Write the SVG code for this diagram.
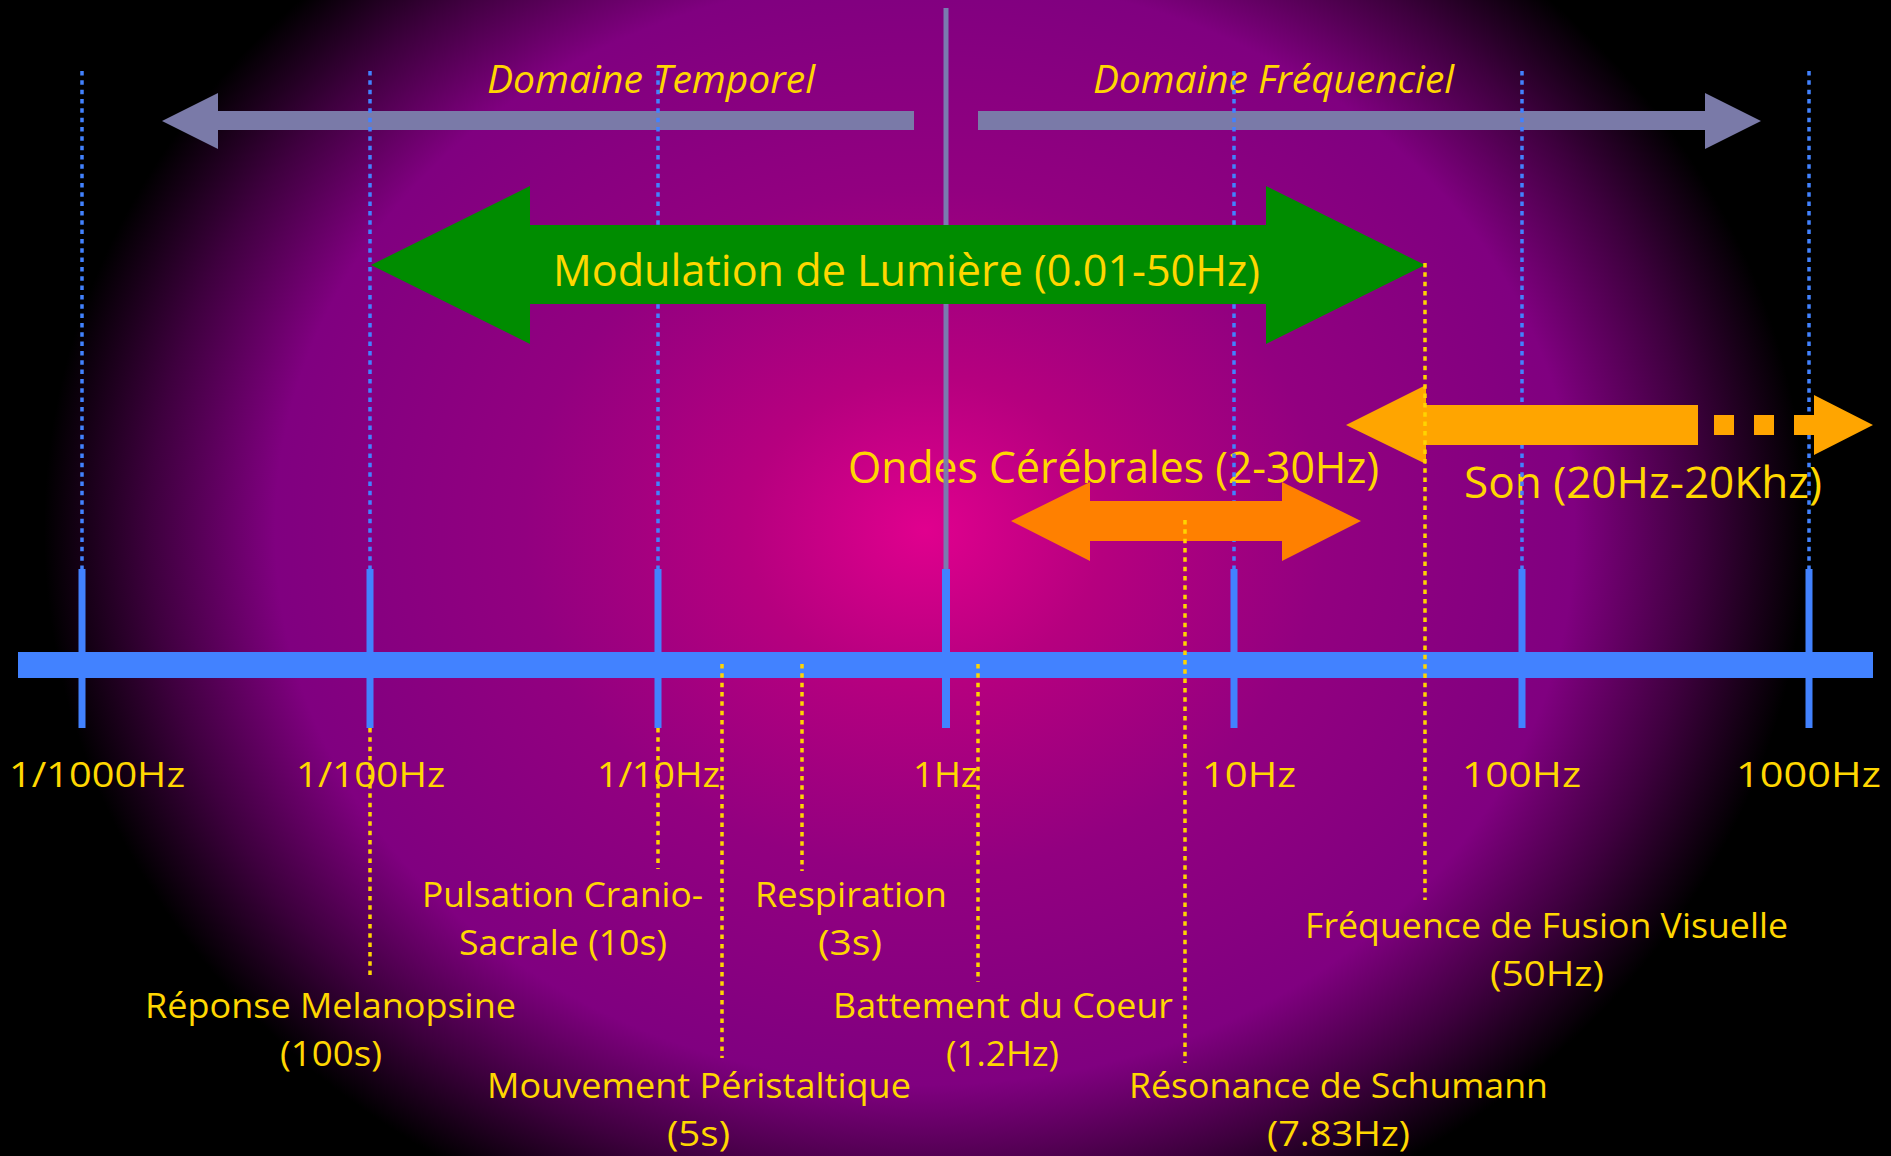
<svg xmlns="http://www.w3.org/2000/svg" width="1891" height="1156" viewBox="0 0 1891 1156">
<defs>
<radialGradient id="bg" gradientUnits="userSpaceOnUse" cx="0" cy="0" r="1" gradientTransform="translate(925 530) scale(890 760)">
<stop offset="0" stop-color="#E0008E"/>
<stop offset="0.2" stop-color="#B6007F"/>
<stop offset="0.45" stop-color="#920080"/>
<stop offset="0.73" stop-color="#800080"/>
<stop offset="0.87" stop-color="#3E003E"/>
<stop offset="0.99" stop-color="#000000"/>
</radialGradient>
<style>
text{font-family:"Open Sans","Liberation Sans",sans-serif;fill:#FFD700}
.dom{font-size:39px;font-style:italic}
.big{font-size:44px}
.ax{font-size:35px}
.lb{font-size:35px}
.bdot{stroke:#4282FF;stroke-width:3.5;stroke-dasharray:4.5 4.83;fill:none}
.ydot{stroke:#FFD400;stroke-width:3.5;stroke-dasharray:4.5 4.83;fill:none}
.tick{fill:#4282FF}
</style>
</defs>
<rect x="0" y="0" width="1891" height="1156" fill="url(#bg)"/>

<g id="domaine-temporel">
<polygon points="162,121 218,93 218,111 914,111 914,130 218,130 218,149" fill="#7A7AA8"/>
<text class="dom" x="487" y="93" textLength="328" lengthAdjust="spacingAndGlyphs">Domaine Temporel</text>
</g>
<g id="domaine-frequenciel">
<polygon points="978,111 1705,111 1705,93 1761,121 1705,149 1705,130 978,130" fill="#7A7AA8"/>
<text class="dom" x="1093" y="93" textLength="361" lengthAdjust="spacingAndGlyphs">Domaine Fréquenciel</text>
</g>
<g id="ondes-label">
<text class="big" x="848" y="483" textLength="531" lengthAdjust="spacingAndGlyphs">Ondes Cérébrales (2-30Hz)</text>
</g>
<g id="son-label">
<text class="big" x="1464" y="498" textLength="358" lengthAdjust="spacingAndGlyphs">Son (20Hz-20Khz)</text>
</g>

<g id="divider">
<line x1="946" y1="8" x2="946" y2="652" stroke="#7A7AB0" stroke-width="5"/>
</g>

<g id="connectors-blue">
<line class="bdot" x1="82" y1="71" x2="82" y2="569"/>
<line class="bdot" x1="370" y1="71" x2="370" y2="569"/>
<line class="bdot" x1="658" y1="71" x2="658" y2="569"/>
<line class="bdot" x1="1234" y1="71" x2="1234" y2="569"/>
<line class="bdot" x1="1522" y1="71" x2="1522" y2="569"/>
<line class="bdot" x1="1809" y1="71" x2="1809" y2="569"/>
</g>

<g id="modulation-lumiere">
<polygon points="371,265 530,186 530,225 1266,225 1266,186 1425,265 1266,344 1266,304 530,304 530,344" fill="#008C00"/>
<text class="big" x="553" y="286" textLength="707" lengthAdjust="spacingAndGlyphs">Modulation de Lumière (0.01-50Hz)</text>
</g>
<g id="ondes-arrow">
<polygon points="1011,521 1090,482 1090,501 1282,501 1282,482 1361,521 1282,561 1282,541 1090,541 1090,561" fill="#FF8000"/>
</g>
<g id="son-arrow" fill="#FFA500">
<polygon points="1346,425 1426,385 1426,405 1698,405 1698,445 1426,445 1426,464"/>
<rect x="1714" y="415" width="20" height="20"/>
<rect x="1754" y="415" width="20" height="20"/>
<polygon points="1794,415 1814,415 1814,395 1873,425 1814,455 1814,435 1794,435"/>
</g>

<g id="axis">
<rect x="18" y="652" width="1855" height="26" fill="#4282FF"/>
<rect class="tick" x="78.5" y="569" width="7" height="159"/>
<rect class="tick" x="366.5" y="569" width="7" height="159"/>
<rect class="tick" x="654.5" y="569" width="7" height="159"/>
<rect class="tick" x="942" y="569" width="8" height="159"/>
<rect class="tick" x="1230.5" y="569" width="7" height="159"/>
<rect class="tick" x="1518.5" y="569" width="7" height="159"/>
<rect class="tick" x="1805.5" y="569" width="7" height="159"/>
</g>

<g id="axis-labels">
<text class="ax" x="9" y="787" textLength="176" lengthAdjust="spacingAndGlyphs">1/1000Hz</text>
<text class="ax" x="296" y="787" textLength="149" lengthAdjust="spacingAndGlyphs">1/100Hz</text>
<text class="ax" x="597" y="787" textLength="123" lengthAdjust="spacingAndGlyphs">1/10Hz</text>
<text class="ax" x="913" y="787" textLength="65" lengthAdjust="spacingAndGlyphs">1Hz</text>
<text class="ax" x="1202" y="787" textLength="94" lengthAdjust="spacingAndGlyphs">10Hz</text>
<text class="ax" x="1462" y="787" textLength="119" lengthAdjust="spacingAndGlyphs">100Hz</text>
<text class="ax" x="1736" y="787" textLength="145" lengthAdjust="spacingAndGlyphs">1000Hz</text>
</g>

<g id="label-pulsation">
<text class="lb" x="422" y="907" textLength="281" lengthAdjust="spacingAndGlyphs">Pulsation Cranio-</text>
<text class="lb" x="459" y="955" textLength="208" lengthAdjust="spacingAndGlyphs">Sacrale (10s)</text>
</g>
<g id="label-respiration">
<text class="lb" x="755" y="907" textLength="192" lengthAdjust="spacingAndGlyphs">Respiration</text>
<text class="lb" x="818" y="955" textLength="64" lengthAdjust="spacingAndGlyphs">(3s)</text>
</g>
<g id="label-melanopsine">
<text class="lb" x="145" y="1018" textLength="371" lengthAdjust="spacingAndGlyphs">Réponse Melanopsine</text>
<text class="lb" x="280" y="1066" textLength="102" lengthAdjust="spacingAndGlyphs">(100s)</text>
</g>
<g id="label-peristaltique">
<text class="lb" x="487" y="1098" textLength="424" lengthAdjust="spacingAndGlyphs">Mouvement Péristaltique</text>
<text class="lb" x="667" y="1146" textLength="63" lengthAdjust="spacingAndGlyphs">(5s)</text>
</g>
<g id="label-coeur">
<text class="lb" x="833" y="1018" textLength="340" lengthAdjust="spacingAndGlyphs">Battement du Coeur</text>
<text class="lb" x="946" y="1066" textLength="113" lengthAdjust="spacingAndGlyphs">(1.2Hz)</text>
</g>
<g id="label-fusion">
<text class="lb" x="1305" y="938" textLength="483" lengthAdjust="spacingAndGlyphs">Fréquence de Fusion Visuelle</text>
<text class="lb" x="1490" y="986" textLength="114" lengthAdjust="spacingAndGlyphs">(50Hz)</text>
</g>
<g id="label-schumann">
<text class="lb" x="1129" y="1098" textLength="419" lengthAdjust="spacingAndGlyphs">Résonance de Schumann</text>
<text class="lb" x="1267" y="1146" textLength="143" lengthAdjust="spacingAndGlyphs">(7.83Hz)</text>
</g>

<g id="connectors-yellow">
<line class="ydot" x1="370" y1="728" x2="370" y2="980"/>
<line class="ydot" x1="658" y1="728" x2="658" y2="869"/>
<line class="ydot" x1="722" y1="664" x2="722" y2="1058"/>
<line class="ydot" x1="802" y1="664" x2="802" y2="871"/>
<line class="ydot" x1="978" y1="664" x2="978" y2="982"/>
<line class="ydot" x1="1185" y1="520" x2="1185" y2="1063"/>
<line class="ydot" x1="1425" y1="263" x2="1425" y2="900"/>
</g>
</svg>
